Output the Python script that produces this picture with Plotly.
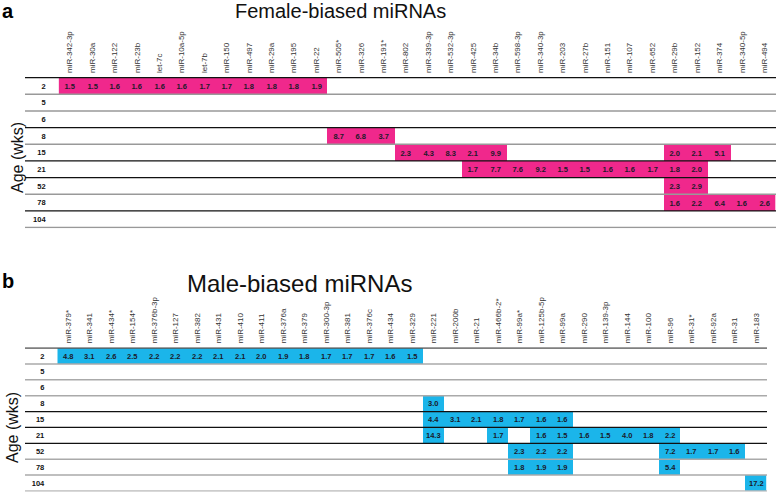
import plotly.graph_objects as go

W, H = 776, 493
FONT = "Liberation Sans, Arial, Helvetica, sans-serif"
PINK = "#F0288C"
BLUE = "#1BB5EA"

ages = ["2", "5", "6", "8", "15", "21", "52", "78", "104"]

female_mirnas = ["miR-342-3p", "miR-30a", "miR-122", "miR-23b", "let-7c", "miR-10a-5p",
                 "let-7b", "miR-150", "miR-497", "miR-29a", "miR-195", "miR-22",
                 "miR-505*", "miR-326", "miR-191*", "miR-802", "miR-339-3p", "miR-532-3p",
                 "miR-425", "miR-34b", "miR-598-3p", "miR-340-3p", "miR-203", "miR-27b",
                 "miR-151", "miR-107", "miR-652", "miR-29b", "miR-152", "miR-374",
                 "miR-340-5p", "miR-494"]

# values per age: {miRNA: fold change}
female_values = {
    "2": {"miR-342-3p": 1.5, "miR-30a": 1.5, "miR-122": 1.6, "miR-23b": 1.6, "let-7c": 1.6,
          "miR-10a-5p": 1.6, "let-7b": 1.7, "miR-150": 1.7, "miR-497": 1.8, "miR-29a": 1.8,
          "miR-195": 1.8, "miR-22": 1.9},
    "5": {},
    "6": {},
    "8": {"miR-505*": 8.7, "miR-326": 6.8, "miR-191*": 3.7},
    "15": {"miR-802": 2.3, "miR-339-3p": 4.3, "miR-532-3p": 8.3, "miR-425": 2.1, "miR-34b": 9.9,
           "miR-29b": 2.0, "miR-152": 2.1, "miR-374": 5.1},
    "21": {"miR-425": 1.7, "miR-34b": 7.7, "miR-598-3p": 7.6, "miR-340-3p": 9.2, "miR-203": 1.5,
           "miR-27b": 1.5, "miR-151": 1.6, "miR-107": 1.6, "miR-652": 1.7, "miR-29b": 1.8,
           "miR-152": 2.0},
    "52": {"miR-29b": 2.3, "miR-152": 2.9},
    "78": {"miR-29b": 1.6, "miR-152": 2.2, "miR-374": 6.4, "miR-340-5p": 1.6, "miR-494": 2.6},
    "104": {},
}

male_mirnas = ["miR-379*", "miR-341", "miR-434*", "miR-154*", "miR-376b-3p", "miR-127",
               "miR-382", "miR-431", "miR-410", "miR-411", "miR-376a", "miR-379",
               "miR-300-3p", "miR-381", "miR-376c", "miR-434", "miR-329", "miR-221",
               "miR-200b", "miR-21", "miR-466b-2*", "miR-99a*", "miR-125b-5p", "miR-99a",
               "miR-290", "miR-139-3p", "miR-144", "miR-100", "miR-96", "miR-31*",
               "miR-92a", "miR-31", "miR-183"]

male_values = {
    "2": {"miR-379*": 4.8, "miR-341": 3.1, "miR-434*": 2.6, "miR-154*": 2.5, "miR-376b-3p": 2.2,
          "miR-127": 2.2, "miR-382": 2.2, "miR-431": 2.1, "miR-410": 2.1, "miR-411": 2.0,
          "miR-376a": 1.9, "miR-379": 1.8, "miR-300-3p": 1.7, "miR-381": 1.7, "miR-376c": 1.7,
          "miR-434": 1.6, "miR-329": 1.5},
    "5": {},
    "6": {},
    "8": {"miR-221": 3.0},
    "15": {"miR-221": 4.4, "miR-200b": 3.1, "miR-21": 2.1, "miR-466b-2*": 1.8, "miR-99a*": 1.7,
           "miR-125b-5p": 1.6, "miR-99a": 1.6},
    "21": {"miR-221": 14.3, "miR-466b-2*": 1.7, "miR-125b-5p": 1.6, "miR-99a": 1.5,
           "miR-290": 1.6, "miR-139-3p": 1.5, "miR-144": 4.0, "miR-100": 1.8, "miR-96": 2.2},
    "52": {"miR-99a*": 2.3, "miR-125b-5p": 2.2, "miR-99a": 2.2, "miR-96": 7.2, "miR-31*": 1.7,
           "miR-92a": 1.7, "miR-31": 1.6},
    "78": {"miR-99a*": 1.8, "miR-125b-5p": 1.9, "miR-99a": 1.9, "miR-96": 5.4},
    "104": {"miR-183": 17.2},
}

panel_letters = ["a", "b"]
panel_titles = ["Female-biased miRNAs", "Male-biased miRNAs"]
y_label = "Age (wks)"

# row separator colours (top to bottom boundaries)
top_rule_colors = ["#111", "#999", "#999", "#111", "#999", "#111", "#111", "#999", "#111", "#999"]
bot_rule_colors = ["#555", "#aaa", "#aaa", "#aaa", "#111", "#111", "#111", "#aaa", "#aaa", "#bbb"]


def matrix(values, cols):
    z, t = [], []
    for a in ages:
        row, trow = [], []
        for c in cols:
            v = values[a].get(c)
            row.append(v)
            trow.append("" if v is None else f"<b>{v:.1f}</b>")
        z.append(row)
        t.append(trow)
    return z, t


def px_x(p):
    return p / W


def px_y(p):
    return 1 - p / H


fig = go.Figure()

panels = [
    dict(cols=female_mirnas, vals=female_values, color=PINK, xd=(58.6, 775.5), yd=(77, 228.3),
         xa="x", ya="y", rules=top_rule_colors, rx1=776, title_x=340, title_y=11, tsize=20,
         letter_y=11, agex=17, agey=158),
    dict(cols=male_mirnas, vals=male_values, color=BLUE, xd=(57.3, 766.7), yd=(347.3, 491.7),
         xa="x2", ya="y2", rules=bot_rule_colors, rx1=767, title_x=299, title_y=283, tsize=24,
         letter_y=281, agex=12, agey=428),
]

for i, p in enumerate(panels):
    z, t = matrix(p["vals"], p["cols"])
    fig.add_trace(go.Heatmap(
        z=z, x=p["cols"], y=ages, text=t, texttemplate="%{text}",
        textfont=dict(family=FONT, size=7.5, color="#1a1a2a"),
        colorscale=[[0, p["color"]], [1, p["color"]]], showscale=False,
        xaxis=p["xa"], yaxis=p["ya"], hoverinfo="skip", xgap=0, ygap=0,
    ))
    axk = "xaxis" if i == 0 else "xaxis2"
    ayk = "yaxis" if i == 0 else "yaxis2"
    fig.update_layout({
        axk: dict(domain=[px_x(p["xd"][0]), px_x(p["xd"][1])], side="top", type="category",
                  tickangle=-90, showgrid=False, zeroline=False, showline=False, ticks="",
                  tickfont=dict(family=FONT, size=8, color="#333"), anchor=p["ya"],
                  ticklabelstandoff=3, fixedrange=True, automargin=False),
        ayk: dict(domain=[px_y(p["yd"][1]), px_y(p["yd"][0])], type="category",
                  autorange="reversed", showgrid=False, zeroline=False, showline=False,
                  ticks="", tickvals=ages, ticktext=[f"<b>{a}</b>" for a in ages],
                  tickfont=dict(family=FONT, size=7.5, color="#111"), anchor=p["xa"],
                  ticklabelstandoff=12, fixedrange=True, automargin=False),
    })
    for k, col in enumerate(p["rules"]):
        fig.add_shape(type="line", xref="paper", yref=p["ya"], x0=px_x(25), x1=px_x(p["rx1"]),
                      y0=k - 0.5, y1=k - 0.5,
                      line=dict(color=col, width=1.3 if col == "#111" else 1.5))
    fig.add_annotation(text=panel_titles[i], xref="paper", yref="paper",
                       x=px_x(p["title_x"]), y=px_y(p["title_y"]), showarrow=False,
                       xanchor="center", yanchor="middle",
                       font=dict(family=FONT, size=p["tsize"], color="#111"))
    fig.add_annotation(text=f"<b>{panel_letters[i]}</b>", xref="paper", yref="paper",
                       x=0, y=px_y(p["letter_y"]), showarrow=False, xanchor="left",
                       yanchor="middle", font=dict(family=FONT, size=20, color="#000"))
    fig.add_annotation(text=y_label, xref="paper", yref="paper", x=px_x(p["agex"]),
                       y=px_y(p["agey"]), showarrow=False, textangle=-90, xanchor="center",
                       yanchor="middle", font=dict(family=FONT, size=16, color="#111"))

fig.update_layout(width=W, height=H, margin=dict(l=0, r=0, t=0, b=0, autoexpand=False),
                  plot_bgcolor="white", paper_bgcolor="white", showlegend=False)

fig.write_html("out.html", config={"displayModeBar": False},
               post_script="document.body.style.margin='0';document.body.style.overflow='hidden';")
